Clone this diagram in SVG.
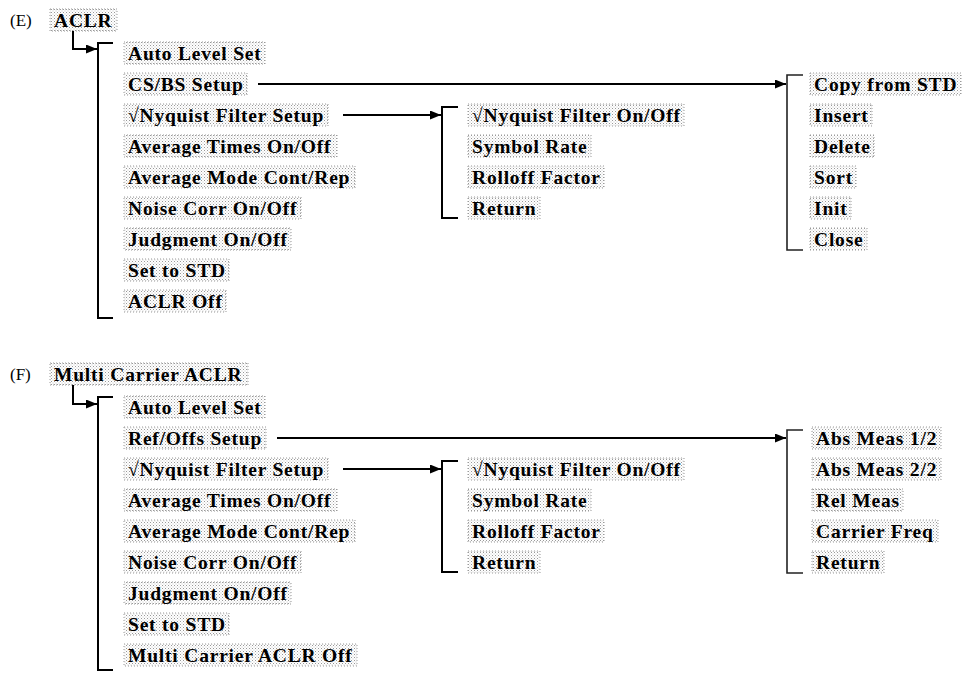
<svg xmlns="http://www.w3.org/2000/svg" width="970" height="676" viewBox="0 0 970 676">
<defs>
<pattern id="dots" width="3" height="3" patternUnits="userSpaceOnUse">
<rect width="3" height="3" fill="#fff"/>
<rect x="0" y="0" width="1" height="1" fill="#999"/>
<rect x="1.5" y="1.5" width="1" height="1" fill="#c4c4c4"/>
</pattern>
<marker id="ah" markerUnits="userSpaceOnUse" markerWidth="11" markerHeight="9" refX="11" refY="4.5" orient="auto">
<path d="M0,0 L11,4.5 L0,9 z" fill="#000"/>
</marker>
<style>
.box{fill:url(#dots);stroke:#999;stroke-width:1;stroke-dasharray:1 2}
.t{font-family:"Liberation Serif","Times New Roman",serif;font-weight:bold;font-size:19.5px;letter-spacing:0.8px;fill:#000}
.lab{font-family:"Liberation Serif","Times New Roman",serif;font-size:17px;fill:#000}
.c{stroke:#000;stroke-width:2;fill:none}
.g{stroke:#222;stroke-width:1.6;fill:none}
.a{marker-end:url(#ah)}
</style>
</defs>
<rect width="970" height="676" fill="#fff"/>

<!-- Section E -->
<g id="labelE"><text class="lab" x="10" y="26">(E)</text></g>
<g id="aclr"><rect class="box" x="50" y="9" width="67" height="22"/><text class="t" x="54" y="26.5">ACLR</text></g>

<g id="e-auto"><rect class="box" x="124" y="42" width="141" height="22"/><text class="t" x="128" y="59.5">Auto Level Set</text></g>
<g id="e-csbs"><rect class="box" x="124" y="73" width="123" height="22"/><text class="t" x="128" y="90.5">CS/BS Setup</text></g>
<g id="e-nyq"><rect class="box" x="124" y="104" width="204" height="22"/><text class="t" x="128" y="121.5">√Nyquist Filter Setup</text></g>
<g id="e-avgt"><rect class="box" x="124" y="135" width="213" height="22"/><text class="t" x="128" y="152.5">Average Times On/Off</text></g>
<g id="e-avgm"><rect class="box" x="124" y="166" width="231" height="22"/><text class="t" x="128" y="183.5">Average Mode Cont/Rep</text></g>
<g id="e-noise"><rect class="box" x="124" y="197" width="177" height="22"/><text class="t" x="128" y="214.5">Noise Corr On/Off</text></g>
<g id="e-judg"><rect class="box" x="124" y="228" width="167" height="22"/><text class="t" x="128" y="245.5">Judgment On/Off</text></g>
<g id="e-std"><rect class="box" x="124" y="259" width="105" height="22"/><text class="t" x="128" y="276.5">Set to STD</text></g>
<g id="e-off"><rect class="box" x="124" y="290" width="102" height="22"/><text class="t" x="128" y="307.5">ACLR Off</text></g>

<g id="e-nyqonoff"><rect class="box" x="468" y="104" width="216" height="22"/><text class="t" x="472" y="121.5">√Nyquist Filter On/Off</text></g>
<g id="e-symb"><rect class="box" x="468" y="135" width="123" height="22"/><text class="t" x="472" y="152.5">Symbol Rate</text></g>
<g id="e-roll"><rect class="box" x="468" y="166" width="136" height="22"/><text class="t" x="472" y="183.5">Rolloff Factor</text></g>
<g id="e-ret"><rect class="box" x="468" y="197" width="72" height="22"/><text class="t" x="472" y="214.5">Return</text></g>

<g id="e-copy"><rect class="box" x="810" y="73" width="151" height="22"/><text class="t" x="814" y="90.5">Copy from STD</text></g>
<g id="e-ins"><rect class="box" x="810" y="104" width="62" height="22"/><text class="t" x="814" y="121.5">Insert</text></g>
<g id="e-del"><rect class="box" x="810" y="135" width="64" height="22"/><text class="t" x="814" y="152.5">Delete</text></g>
<g id="e-sort"><rect class="box" x="810" y="166" width="46" height="22"/><text class="t" x="814" y="183.5">Sort</text></g>
<g id="e-init"><rect class="box" x="810" y="197" width="41" height="22"/><text class="t" x="814" y="214.5">Init</text></g>
<g id="e-close"><rect class="box" x="810" y="228" width="57" height="22"/><text class="t" x="814" y="245.5">Close</text></g>

<!-- Section F -->
<g id="labelF"><text class="lab" x="10" y="380">(F)</text></g>
<g id="mcaclr"><rect class="box" x="50" y="363" width="198" height="22"/><text class="t" x="54" y="380.5">Multi Carrier ACLR</text></g>

<g id="f-auto"><rect class="box" x="124" y="396" width="141" height="22"/><text class="t" x="128" y="413.5">Auto Level Set</text></g>
<g id="f-ref"><rect class="box" x="124" y="427" width="142" height="22"/><text class="t" x="128" y="444.5">Ref/Offs Setup</text></g>
<g id="f-nyq"><rect class="box" x="124" y="458" width="204" height="22"/><text class="t" x="128" y="475.5">√Nyquist Filter Setup</text></g>
<g id="f-avgt"><rect class="box" x="124" y="489" width="213" height="22"/><text class="t" x="128" y="506.5">Average Times On/Off</text></g>
<g id="f-avgm"><rect class="box" x="124" y="520" width="231" height="22"/><text class="t" x="128" y="537.5">Average Mode Cont/Rep</text></g>
<g id="f-noise"><rect class="box" x="124" y="551" width="177" height="22"/><text class="t" x="128" y="568.5">Noise Corr On/Off</text></g>
<g id="f-judg"><rect class="box" x="124" y="582" width="167" height="22"/><text class="t" x="128" y="599.5">Judgment On/Off</text></g>
<g id="f-std"><rect class="box" x="124" y="613" width="105" height="22"/><text class="t" x="128" y="630.5">Set to STD</text></g>
<g id="f-off"><rect class="box" x="124" y="644" width="233" height="22"/><text class="t" x="128" y="661.5">Multi Carrier ACLR Off</text></g>

<g id="f-nyqonoff"><rect class="box" x="468" y="458" width="216" height="22"/><text class="t" x="472" y="475.5">√Nyquist Filter On/Off</text></g>
<g id="f-symb"><rect class="box" x="468" y="489" width="123" height="22"/><text class="t" x="472" y="506.5">Symbol Rate</text></g>
<g id="f-roll"><rect class="box" x="468" y="520" width="136" height="22"/><text class="t" x="472" y="537.5">Rolloff Factor</text></g>
<g id="f-ret"><rect class="box" x="468" y="551" width="72" height="22"/><text class="t" x="472" y="568.5">Return</text></g>

<g id="f-abs1"><rect class="box" x="812" y="427" width="129" height="22"/><text class="t" x="816" y="444.5">Abs Meas 1/2</text></g>
<g id="f-abs2"><rect class="box" x="812" y="458" width="129" height="22"/><text class="t" x="816" y="475.5">Abs Meas 2/2</text></g>
<g id="f-rel"><rect class="box" x="812" y="489" width="91" height="22"/><text class="t" x="816" y="506.5">Rel Meas</text></g>
<g id="f-carr"><rect class="box" x="812" y="520" width="126" height="22"/><text class="t" x="816" y="537.5">Carrier Freq</text></g>
<g id="f-ret2"><rect class="box" x="812" y="551" width="72" height="22"/><text class="t" x="816" y="568.5">Return</text></g>

<g id="connectors">
<path class="c a" d="M73,31 V49 H97"/>
<path class="c" d="M113,43 H98 V318 H113"/>
<path class="c a" d="M258,84 H786"/>
<path class="g" d="M803,75 H787 V250 H803"/>
<path class="c a" d="M343,115 H441"/>
<path class="c" d="M458,107 H442 V218 H458"/>

<path class="c a" d="M73,385 V404 H97"/>
<path class="c" d="M113,397 H98 V670 H113"/>
<path class="c a" d="M277,438 H786"/>
<path class="g" d="M803,430 H787 V573 H803"/>
<path class="c a" d="M343,469 H441"/>
<path class="c" d="M458,461 H442 V572 H458"/>
</g>
</svg>
